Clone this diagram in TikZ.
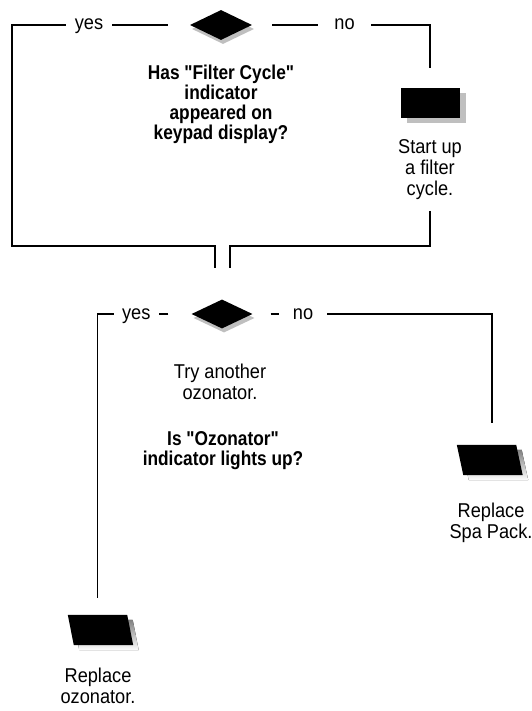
\documentclass[tikz,border=0pt]{standalone}
\usepackage{fontspec}
\setmainfont{Liberation Sans}[Ligatures=TeXOff, FakeStretch=0.91, BoldFeatures={FakeStretch=0.865}]
\usetikzlibrary{shapes.geometric,shadows}
\definecolor{shade}{gray}{0.75}
\begin{document}
\begin{tikzpicture}[x=1pt,y=-1pt,
  conn/.style={line width=1.4pt},
  dec/.style={diamond, fill=black, inner sep=0pt,
    general shadow={fill=shade, shadow xshift=2pt, shadow yshift=-4pt}},
  actbox/.style={rectangle, fill=black, inner sep=0pt, minimum width=59pt, minimum height=30pt,
    general shadow={fill=shade, shadow xshift=6pt, shadow yshift=-5pt}},
  ghost/.style={rectangle, inner sep=0pt, minimum width=59pt, minimum height=30pt},
  rtxt/.style={align=center, inner sep=0pt, anchor=base, font=\fontsize{20}{21}\selectfont},
  btxt/.style={align=center, inner sep=0pt, anchor=base, font=\fontsize{20}{20}\selectfont\bfseries},
  lbl/.style={fill=white, inner xsep=0pt, inner ysep=1pt, anchor=base, font=\fontsize{20}{21}\selectfont}
]
\useasboundingbox (0,0) rectangle (531,711);

% ---- first decision ----
\node[dec, minimum width=62pt, minimum height=30pt] (d1) at (221,25) {};
\node[actbox] (r1) at (430,103) {};
\node[btxt] (t0) at (221,140) {Has "Filter Cycle"\\indicator\\appeared on\\keypad display?};
\node[rtxt] (t1) at (430,195.5) {Start up\\a filter\\cycle.};

\coordinate (cL) at (12,246);
\coordinate (cR) at (230,246);
\coordinate (j1) at (215,268);
\coordinate (j2) at (230,268);

\draw[conn, shorten <=22pt] (d1.west) -| (cL) -| (j1);
\draw[conn, shorten <=20pt, shorten >=20pt] (d1.east) -| (r1.north);
\draw[conn, shorten <=11pt] (t1.south) |- (cR) -- (j2);

\node[lbl, minimum width=46pt] (y1) at (89,30) {yes};
\node[lbl, minimum width=53pt] (n1) at (344.5,30) {no};

% ---- second decision ----
\node[dec, minimum width=61pt, minimum height=29pt] (d2) at (222,314) {};
\node[rtxt] (t2) at (220,399.5) {Try another\\ozonator.};
\node[btxt] (t3) at (223,465) {Is "Ozonator"\\indicator lights up?};

\node[ghost] (p1) at (486.5,460) {};
\node[ghost] (p2) at (97.5,630) {};

\fill[shade] ([shift={(5.5,5)}]p1.north west) -- ([shift={(5.5,5)}]p1.north east)
  -- ([shift={(12,5)}]p1.south east) -- ([shift={(12,5)}]p1.south west) -- cycle;
\fill[black] (p1.north west) -- (p1.north east)
  -- ([shift={(6.5,0)}]p1.south east) -- ([shift={(6.5,0)}]p1.south west) -- cycle;
\fill[shade] ([shift={(5.5,5)}]p2.north west) -- ([shift={(5.5,5)}]p2.north east)
  -- ([shift={(11.5,5)}]p2.south east) -- ([shift={(11.5,5)}]p2.south west) -- cycle;
\fill[black] (p2.north west) -- (p2.north east)
  -- ([shift={(6,0)}]p2.south east) -- ([shift={(6,0)}]p2.south west) -- cycle;

\node[rtxt] (t4) at (491,538) {Replace\\Spa Pack.};
\node[rtxt] (t5) at (98,703.5) {Replace\\ozonator.};

\draw[conn, shorten <=23pt, shorten >=17pt] (d2.west) -| (p2.north);
\draw[conn, shorten <=18pt, shorten >=22pt] (d2.east) -| ([xshift=5.5pt]p1.north);

\node[lbl, minimum width=45.5pt] (y2) at (136.3,319) {yes};
\node[lbl, minimum width=48pt] (n2) at (303,319) {no};
\end{tikzpicture}
\end{document}
